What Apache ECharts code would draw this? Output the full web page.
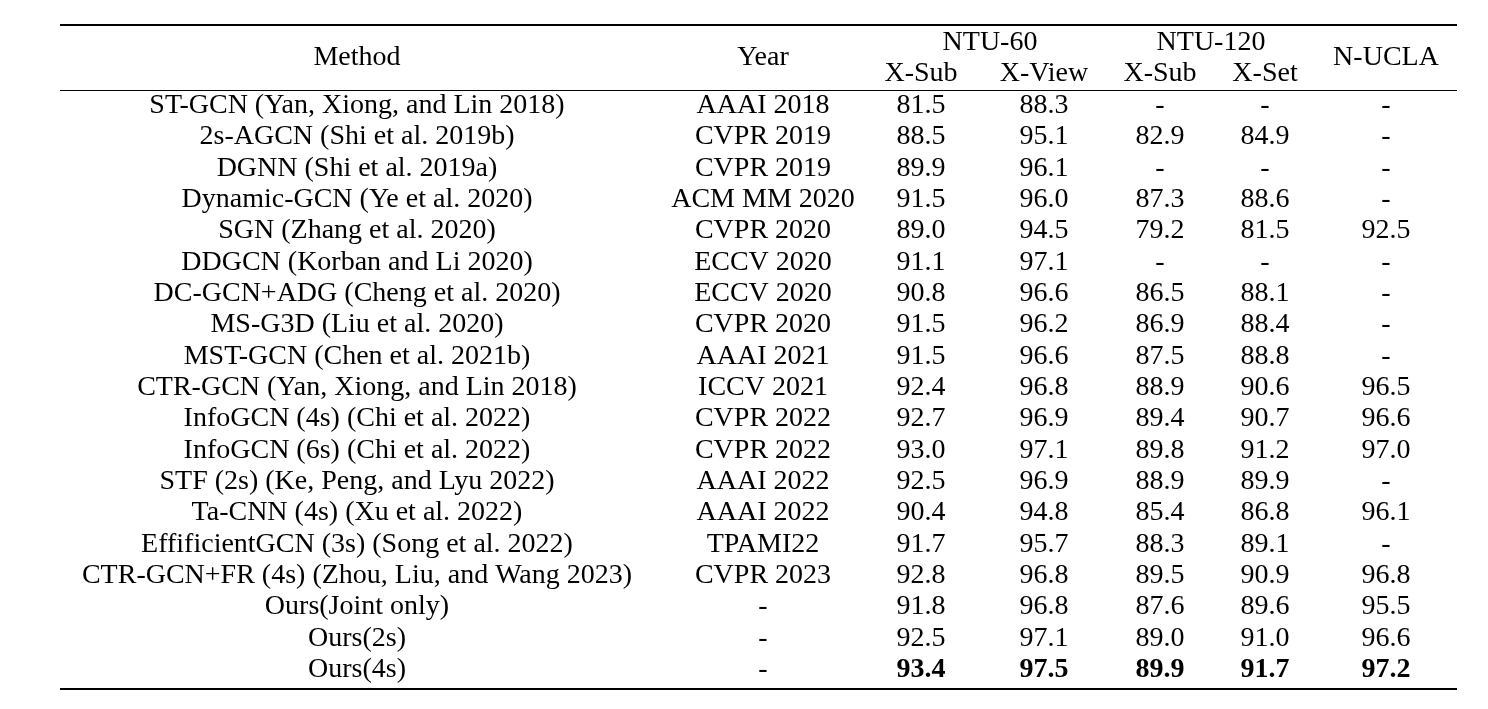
<!DOCTYPE html>
<html>
<head>
<meta charset="utf-8">
<script src="https://cdn.jsdelivr.net/npm/echarts@6/dist/echarts.min.js"></script>
<style>
html,body{margin:0;padding:0;background:#fff;}
#chart{width:1488px;height:709px;}
</style>
</head>
<body>
<div id="chart"></div>
<script>
// ---------------- data ----------------
const methods = [
  'ST-GCN (Yan, Xiong, and Lin 2018)',
  '2s-AGCN (Shi et al. 2019b)',
  'DGNN (Shi et al. 2019a)',
  'Dynamic-GCN (Ye et al. 2020)',
  'SGN (Zhang et al. 2020)',
  'DDGCN (Korban and Li 2020)',
  'DC-GCN+ADG (Cheng et al. 2020)',
  'MS-G3D (Liu et al. 2020)',
  'MST-GCN (Chen et al. 2021b)',
  'CTR-GCN (Yan, Xiong, and Lin 2018)',
  'InfoGCN (4s) (Chi et al. 2022)',
  'InfoGCN (6s) (Chi et al. 2022)',
  'STF (2s) (Ke, Peng, and Lyu 2022)',
  'Ta-CNN (4s) (Xu et al. 2022)',
  'EffificientGCN (3s) (Song et al. 2022)',
  'CTR-GCN+FR (4s) (Zhou, Liu, and Wang 2023)',
  'Ours(Joint only)',
  'Ours(2s)',
  'Ours(4s)'
];
const years = ['AAAI 2018','CVPR 2019','CVPR 2019','ACM MM 2020','CVPR 2020','ECCV 2020','ECCV 2020','CVPR 2020','AAAI 2021','ICCV 2021','CVPR 2022','CVPR 2022','AAAI 2022','AAAI 2022','TPAMI22','CVPR 2023','-','-','-'];
const ntu60XSub  = [81.5,88.5,89.9,91.5,89.0,91.1,90.8,91.5,91.5,92.4,92.7,93.0,92.5,90.4,91.7,92.8,91.8,92.5,93.4];
const ntu60XView = [88.3,95.1,96.1,96.0,94.5,97.1,96.6,96.2,96.6,96.8,96.9,97.1,96.9,94.8,95.7,96.8,96.8,97.1,97.5];
const ntu120XSub = [null,82.9,null,87.3,79.2,null,86.5,86.9,87.5,88.9,89.4,89.8,88.9,85.4,88.3,89.5,87.6,89.0,89.9];
const ntu120XSet = [null,84.9,null,88.6,81.5,null,88.1,88.4,88.8,90.6,90.7,91.2,89.9,86.8,89.1,90.9,89.6,91.0,91.7];
const nucla      = [null,null,null,null,92.5,null,null,null,null,96.5,96.6,97.0,null,96.1,null,96.8,95.5,96.6,97.2];
const boldRows = [18];
const headerGroups = ['NTU-60','NTU-120'];
const headerCols = ['Method','Year','X-Sub','X-View','X-Sub','X-Set','N-UCLA'];

// ---------------- layout ----------------
const colX = [357, 763, 921, 1044, 1160, 1265, 1386];
const groupX = [990, 1211];
const HEAD_GROUP_Y = -2.0, HEAD_MAIN_Y = -1.52, HEAD_SUB_Y = -1.02;
const FONT = "'Liberation Serif','Times New Roman',serif";
const FS = 28, SX = 1.0;

const fmt = v => (v === null || v === undefined) ? '-' : v.toFixed(1);

const cells = [];
const numCols = [ntu60XSub, ntu60XView, ntu120XSub, ntu120XSet, nucla];
for (let r = 0; r < methods.length; r++) {
  const bold = boldRows.indexOf(r) >= 0;
  cells.push({x: colX[0], y: r, t: methods[r], b: false});
  cells.push({x: colX[1], y: r, t: years[r], b: false});
  numCols.forEach((arr, i) => cells.push({x: colX[2 + i], y: r, t: fmt(arr[r]), b: bold && arr[r] !== null}));
}
// headers
cells.push({x: colX[0], y: HEAD_MAIN_Y, t: headerCols[0], b: false});
cells.push({x: colX[1], y: HEAD_MAIN_Y, t: headerCols[1], b: false});
cells.push({x: colX[6], y: HEAD_MAIN_Y, t: headerCols[6], b: false});
cells.push({x: groupX[0], y: HEAD_GROUP_Y, t: headerGroups[0], b: false});
cells.push({x: groupX[1], y: HEAD_GROUP_Y, t: headerGroups[1], b: false});
for (let i = 2; i <= 5; i++) cells.push({x: colX[i], y: HEAD_SUB_Y, t: headerCols[i], b: false});

// rules: [x1, x2, y, width]
const rules = [
  [60, 1457, -2.57, 2],
  [60, 1457, -0.478, 1.2],
  [60, 1457, 18.62, 2]
];

const chart = echarts.init(document.getElementById('chart'), null, {renderer: 'canvas'});
chart.setOption({
  backgroundColor: '#fff',
  animation: false,
  grid: {left: 0, right: 0, top: 105.5, bottom: 39.5},
  xAxis: {type: 'value', min: 0, max: 1488, show: false},
  yAxis: {type: 'value', min: 0, max: 18, inverse: true, show: false},
  series: [
    {
      type: 'custom',
      clip: false,
      silent: true,
      encode: {x: 0, y: 1},
      data: cells.map(c => [c.x, c.y]),
      renderItem: function (params, api) {
        const c = cells[params.dataIndex];
        const p = api.coord([api.value(0), api.value(1)]);
        return {
          type: 'text',
          x: p[0], y: p[1],
          scaleX: SX, scaleY: 1,
          style: {
            x: 0, y: 0,
            text: c.t,
            fill: '#000',
            font: (c.b ? 'bold ' : '') + FS + 'px ' + FONT,
            align: 'center',
            verticalAlign: 'middle'
          }
        };
      }
    },
    {
      type: 'custom',
      clip: false,
      silent: true,
      encode: {x: [0, 1], y: 2},
      data: rules,
      renderItem: function (params, api) {
        const a = api.coord([api.value(0), api.value(2)]);
        const b = api.coord([api.value(1), api.value(2)]);
        return {
          type: 'line',
          shape: {x1: a[0], y1: a[1], x2: b[0], y2: b[1]},
          style: {stroke: '#000', lineWidth: api.value(3)}
        };
      }
    }
  ]
});
</script>
</body>
</html>
